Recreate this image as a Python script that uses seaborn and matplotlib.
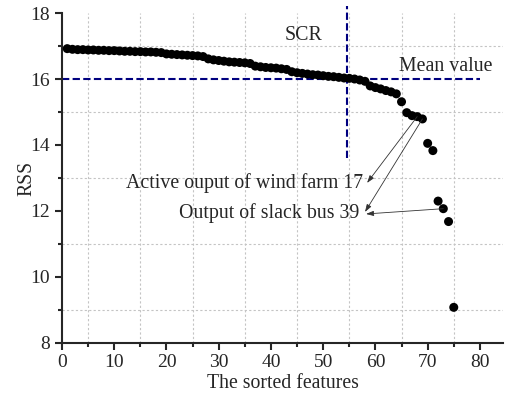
import numpy as np
import pandas as pd
import matplotlib
matplotlib.use("Agg")
import matplotlib.pyplot as plt
from matplotlib.ticker import MultipleLocator
import seaborn as sns

# Residual sum of squares for each feature, sorted in descending order
feature_rank = list(range(1, 76))
rss_values = [
    16.92, 16.90, 16.89, 16.89, 16.88, 16.88, 16.87, 16.87, 16.86, 16.86,
    16.85, 16.84, 16.84, 16.83, 16.83, 16.82, 16.82, 16.81, 16.80, 16.76,
    16.75, 16.74, 16.73, 16.72, 16.71, 16.70, 16.68, 16.61, 16.58, 16.56,
    16.54, 16.52, 16.51, 16.50, 16.49, 16.47, 16.39, 16.37, 16.35, 16.34,
    16.33, 16.31, 16.29, 16.22, 16.19, 16.17, 16.15, 16.13, 16.12, 16.10,
    16.08, 16.07, 16.05, 16.03, 16.02, 16.00, 15.97, 15.93, 15.79, 15.74,
    15.70, 15.65, 15.61, 15.55, 15.31, 14.98, 14.89, 14.86, 14.79, 14.05,
    13.83, 12.30, 12.07, 11.68, 9.08,
]

mean_value = 16.0
scr_position = 54.5
x_ticks = [0, 10, 20, 30, 40, 50, 60, 70, 80]
y_ticks = [8, 10, 12, 14, 16, 18]

# Labelled features: (label, rank of the feature the arrow starts from)
wind_label = "Active ouput of wind farm 17"
slack_label = "Output of slack bus 39"
wind_rank = 68
slack_ranks = [69, 73]

df = pd.DataFrame({"rank": feature_rank, "rss": rss_values})

sns.set_style("ticks")
plt.rcParams["font.family"] = ["Liberation Serif", "DejaVu Serif"]
plt.rcParams["mathtext.fontset"] = "stix"

fig = plt.figure(figsize=(5.05, 3.99), dpi=100)
ax = fig.add_axes([0.1228, 0.1404, 0.874, 0.827])

navy = "#00007f"
dash = (0, (3.5, 1.6))

# Mean value (horizontal) and SCR cut-off (vertical)
ax.plot([0, 80], [mean_value, mean_value], color=navy, lw=1.5, ls=dash, zorder=2)
ax.plot([scr_position, scr_position], [13.6, 18.2], color=navy, lw=1.5, ls=dash,
        zorder=2, clip_on=False)

sns.scatterplot(data=df, x="rank", y="rss", ax=ax, color="black", s=42,
                edgecolor="none", linewidth=0, zorder=3, legend=False)

ax.set_xlim(0, 84.5)
ax.set_ylim(8, 18)
ax.set_xticks(x_ticks)
ax.set_yticks(y_ticks)
ax.xaxis.set_minor_locator(MultipleLocator(5))
ax.yaxis.set_minor_locator(MultipleLocator(1))
ax.tick_params(axis="both", which="major", direction="out", length=5, width=1.5,
               labelsize=14)
ax.tick_params(axis="x", which="major", pad=3)
ax.tick_params(axis="y", which="major", pad=4)
ax.tick_params(axis="both", which="minor", direction="out", length=3, width=1.5)

ax.grid(False, which="major")
ax.grid(True, which="minor", color="#c4c4c4", ls=(0, (2, 2)), lw=0.8)
ax.set_axisbelow(True)

for side in ["top", "right"]:
    ax.spines[side].set_visible(False)
for side in ["left", "bottom"]:
    ax.spines[side].set_linewidth(1.5)

ax.set_xlabel("The sorted features", fontsize=14.2, labelpad=2)
ax.set_ylabel("RSS", fontsize=14.2)
ax.yaxis.set_label_coords(-0.058, 0.5)

ax.text(46.2, 17.32, "SCR", fontsize=14.3, ha="center", va="center")
ax.text(64.6, 16.38, "Mean value", fontsize=14.3, ha="left", va="center")

arrow_kw = dict(arrowstyle="-|>,head_length=0.45,head_width=0.15",
                color="#333333", lw=0.6, shrinkA=0, shrinkB=0)

ax.text(57.6, 12.85, wind_label, fontsize=14.3, ha="right", va="center")
ax.annotate("", xy=(58.4, 12.85),
            xytext=(feature_rank[wind_rank - 1], rss_values[wind_rank - 1]),
            arrowprops=arrow_kw)

ax.text(57.0, 11.94, slack_label, fontsize=14.3, ha="right", va="center")
ax.annotate("", xy=(58.0, 11.97),
            xytext=(feature_rank[slack_ranks[0] - 1], rss_values[slack_ranks[0] - 1]),
            arrowprops=arrow_kw)
ax.annotate("", xy=(58.2, 11.91),
            xytext=(feature_rank[slack_ranks[1] - 1], rss_values[slack_ranks[1] - 1]),
            arrowprops=arrow_kw)

fig.savefig("out.png", dpi=100)
